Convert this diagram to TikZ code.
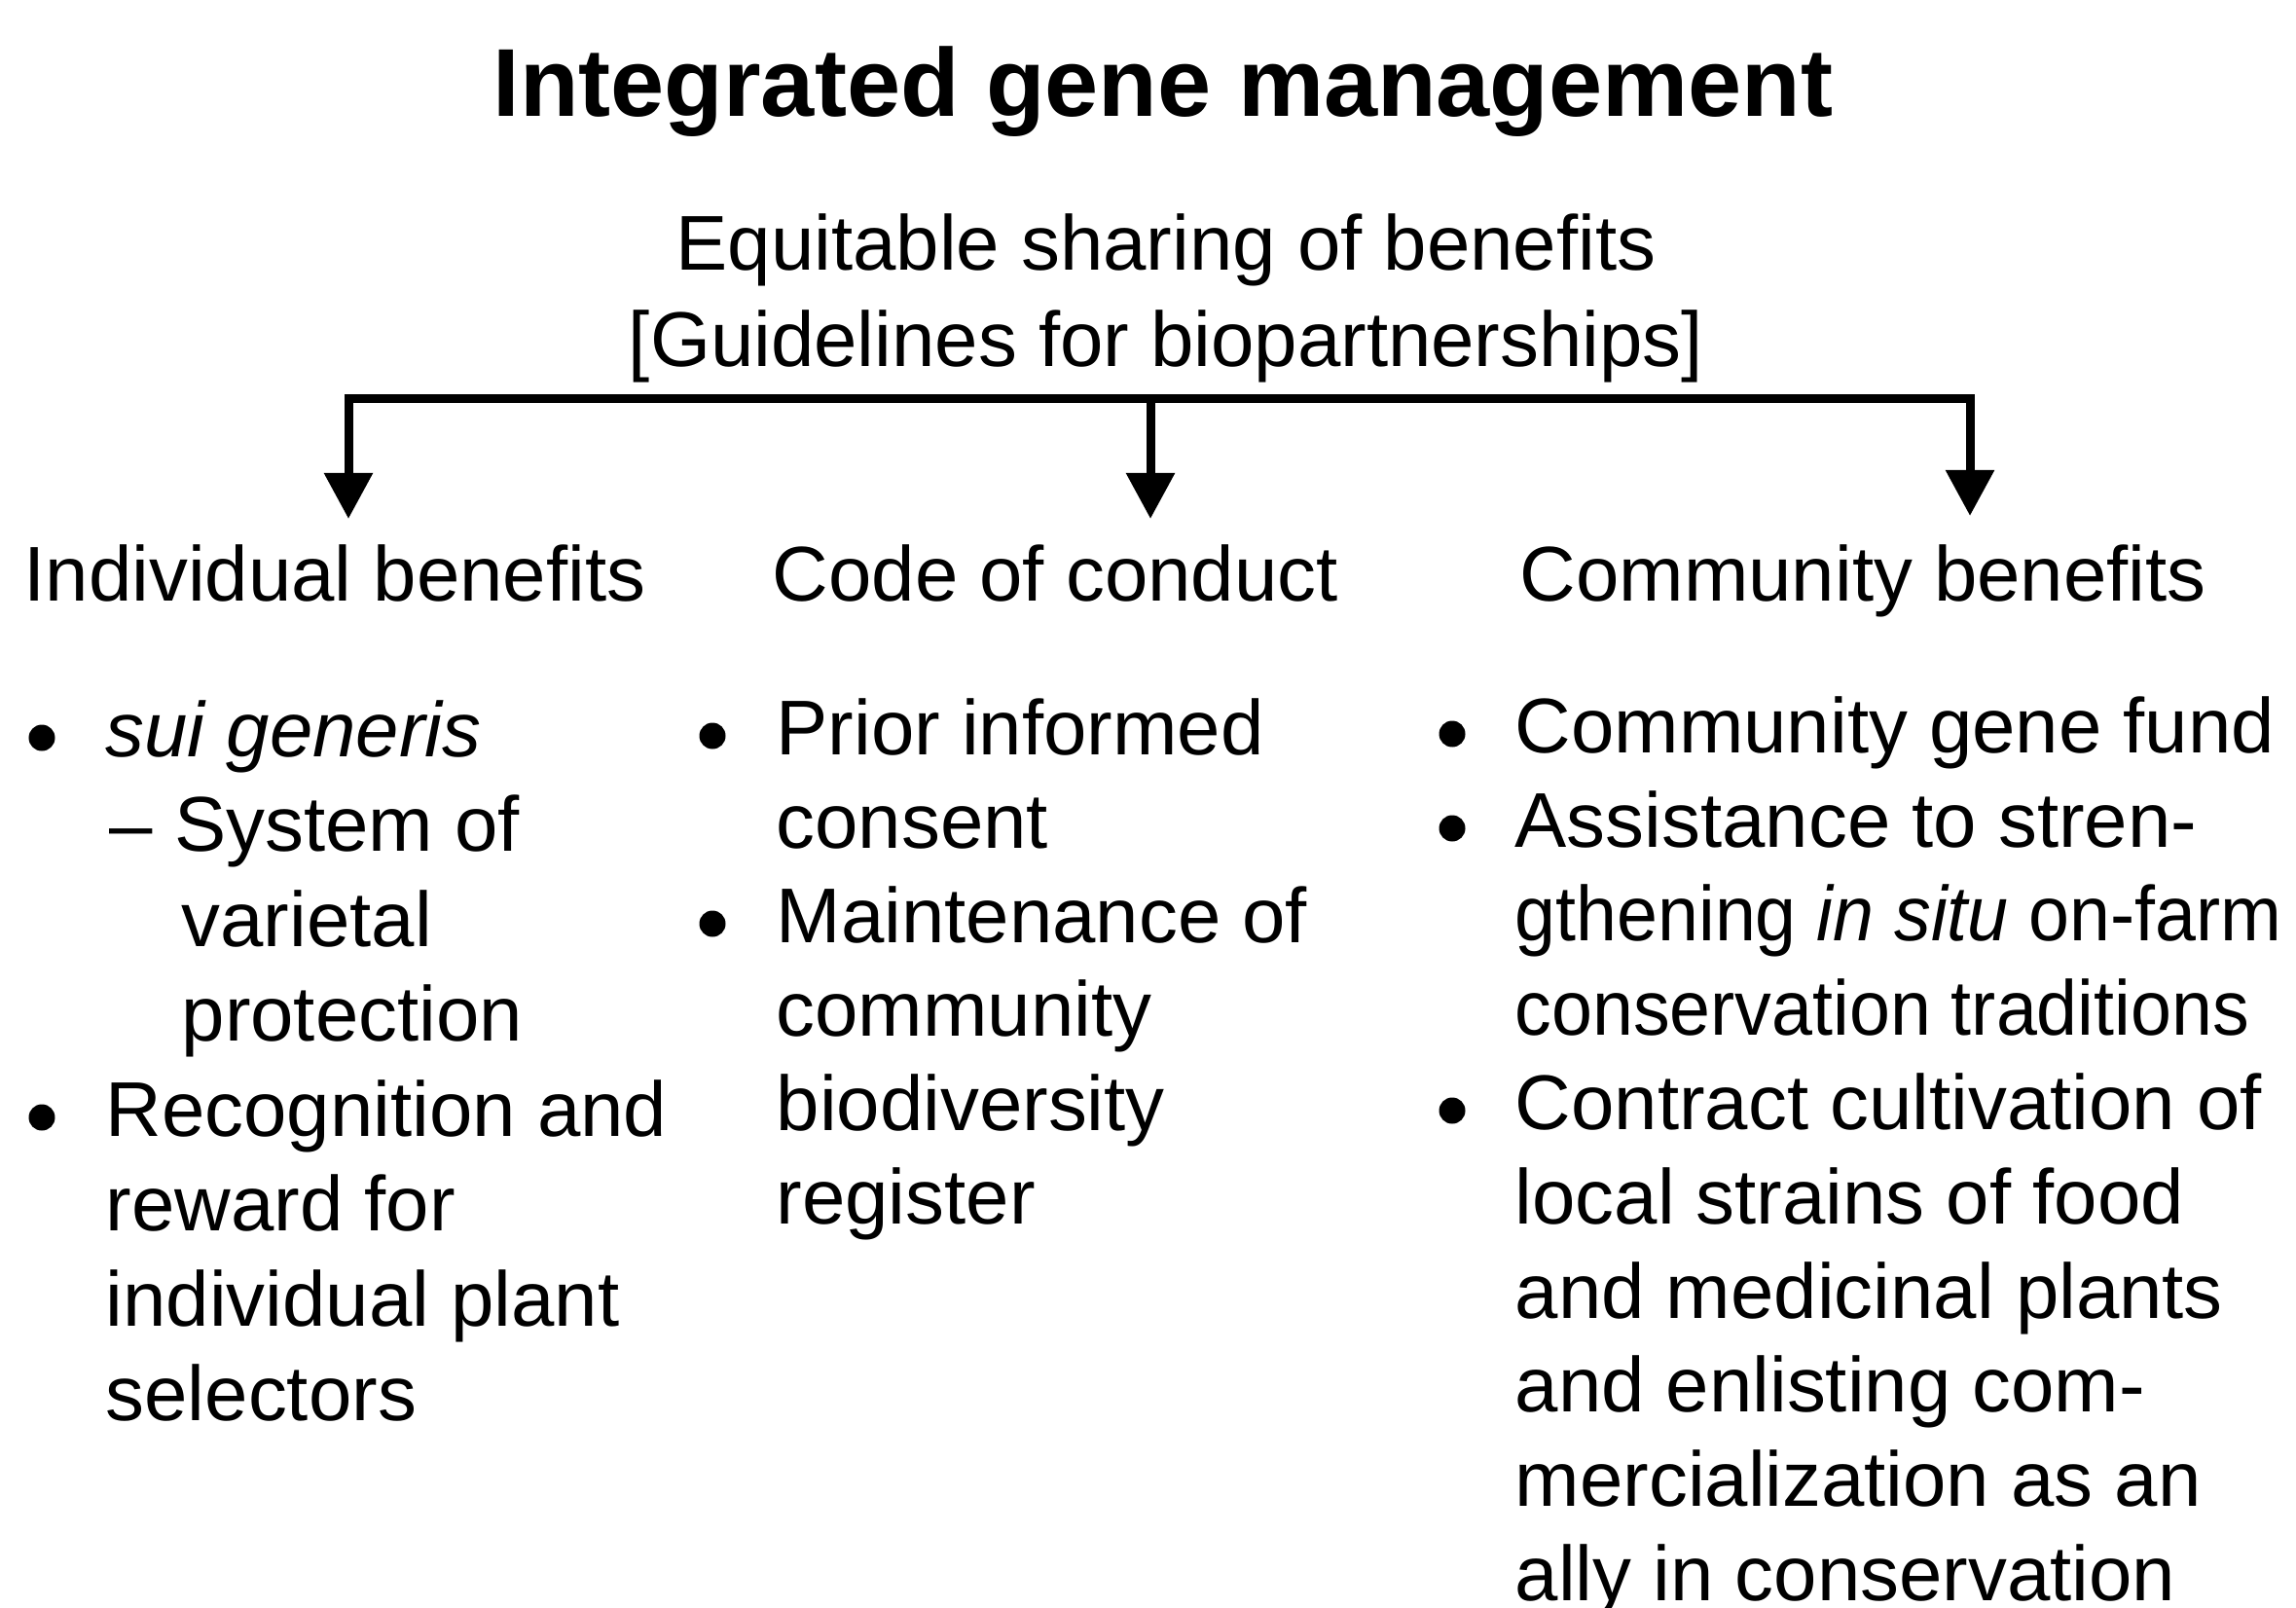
\documentclass[tikz,border=0pt]{standalone}
\usepackage{fontspec}
\setmainfont{Liberation Sans}
\usetikzlibrary{arrows.meta}

\begin{document}
\begin{tikzpicture}[
    txt/.style={inner sep=0pt, anchor=base west, font=\fontsize{22.7}{27}\selectfont},
    mid/.style={inner sep=0pt, anchor=base, font=\fontsize{22.7}{27}\selectfont},
    tight/.style={txt, transform shape, xscale=0.945},
    dot/.style={circle, fill=black, inner sep=0pt, minimum size=0.27cm},
    arr/.style={line width=0.09cm, -{Triangle[length=0.47cm, width=0.48cm]}}
]
\useasboundingbox (0, 0) rectangle (23.59, -16.52);

\node[inner sep=0pt, anchor=base, font=\fontsize{28.2}{32}\selectfont\bfseries] (title) at (11.95, -1.20) {Integrated gene management};

\node[mid] (share1) at (11.98, -2.78) {Equitable sharing of benefits};
\node[mid] (share2) at (11.98, -3.77) {[Guidelines for biopartnerships]};

\coordinate (fL) at (3.58, -4.10);
\coordinate (fM) at (11.82, -4.10);
\coordinate (fR) at (20.24, -4.10);
\coordinate (tL) at (3.58, -5.33);
\coordinate (tM) at (11.82, -5.33);
\coordinate (tR) at (20.24, -5.30);

\draw[arr, {Triangle[length=0.47cm, width=0.48cm]}-{Triangle[length=0.47cm, width=0.48cm]}] (tL) -- (fL) -- (fR) -- (tR);
\draw[arr] (fM) -- (tM);

\node[txt] (ind) at (0.24, -6.17) {Individual benefits};
\node[txt] (code) at (7.93, -6.17) {Code of conduct};
\node[txt] (com) at (15.61, -6.17) {Community benefits};

\node[dot] (ib1) at (0.43, -7.58) {};
\node[txt] (i1) at (1.08, -7.77) {\textit{sui generis}};
\node[txt] (i2) at (1.12, -8.745) {– System of};
\node[txt] (i3) at (1.86, -9.72) {varietal};
\node[txt] (i4) at (1.86, -10.695) {protection};
\node[dot] (ib2) at (0.43, -11.48) {};
\node[txt] (i5) at (1.08, -11.67) {Recognition and};
\node[txt] (i6) at (1.08, -12.645) {reward for};
\node[txt] (i7) at (1.08, -13.62) {individual plant};
\node[txt] (i8) at (1.08, -14.595) {selectors};

\node[dot] (cb1) at (7.32, -7.56) {};
\node[txt] (c1) at (7.97, -7.75) {Prior informed};
\node[txt] (c2) at (7.97, -8.715) {consent};
\node[dot] (cb2) at (7.32, -9.49) {};
\node[txt] (c3) at (7.97, -9.68) {Maintenance of};
\node[txt] (c4) at (7.97, -10.645) {community};
\node[txt] (c5) at (7.97, -11.61) {biodiversity};
\node[txt] (c6) at (7.97, -12.575) {register};

\node[dot] (mb1) at (14.92, -7.54) {};
\node[txt] (m1) at (15.56, -7.73) {Community gene fund};
\node[dot] (mb2) at (14.92, -8.51) {};
\node[txt] (m2) at (15.56, -8.70) {Assistance to stren-};
\node[tight] (m3) at (15.56, -9.665) {gthening \textit{in situ} on-farm};
\node[tight] (m4) at (15.56, -10.63) {conservation traditions};
\node[dot] (mb3) at (14.92, -11.41) {};
\node[txt] (m5) at (15.56, -11.60) {Contract cultivation of};
\node[txt] (m6) at (15.56, -12.57) {local strains of food};
\node[txt] (m7) at (15.56, -13.54) {and medicinal plants};
\node[txt] (m8) at (15.56, -14.50) {and enlisting com-};
\node[txt] (m9) at (15.56, -15.47) {mercialization as an};
\node[txt] (m10) at (15.56, -16.44) {ally in conservation};

\end{tikzpicture}
\end{document}
